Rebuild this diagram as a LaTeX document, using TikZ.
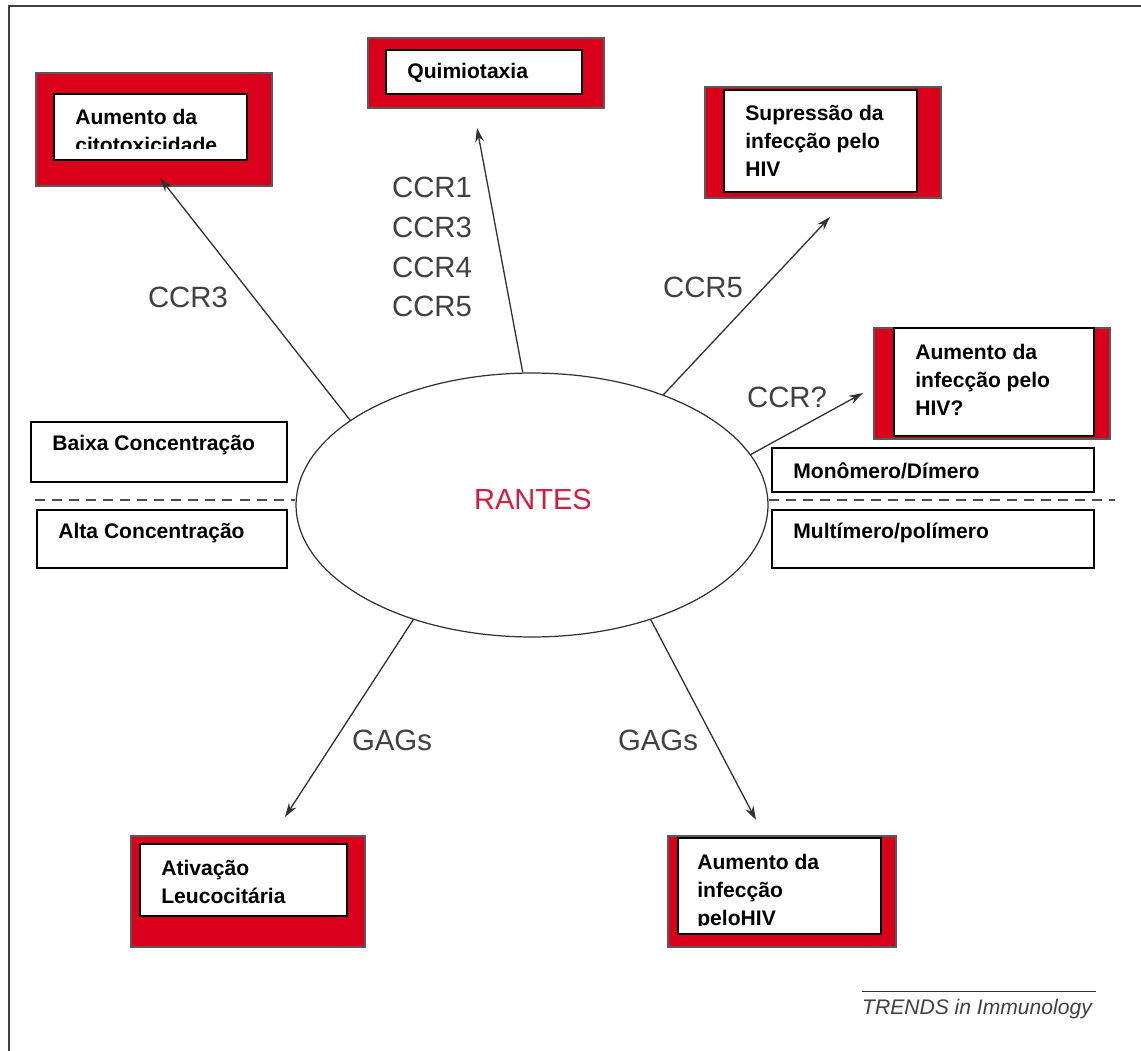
\documentclass[tikz,border=0pt]{standalone}
\usepackage{fontspec}
\setmainfont{Liberation Sans}
\usetikzlibrary{shapes.geometric,arrows.meta,fit}
\definecolor{boxred}{RGB}{218,0,28}
\definecolor{ranred}{RGB}{215,25,60}
\definecolor{lbl}{RGB}{64,64,64}
\definecolor{ln}{RGB}{50,50,50}
\begin{document}
\begin{tikzpicture}[x=0.02cm,y=-0.02cm,
 redbox/.style={fill=boxred,draw=black!65,line width=0.6pt,inner sep=0pt},
 whitebox/.style={fill=white,draw=black,line width=0.6pt,inner sep=0pt},
 plainbox/.style={fill=white,draw=black,line width=0.6pt,inner sep=0pt},
 btxt/.style={font=\bfseries\fontsize{12}{15.8}\selectfont,align=left,inner sep=0pt,anchor=north west},
 btxtone/.style={font=\bfseries\fontsize{12}{14}\selectfont,inner sep=0pt,anchor=west},
 lab/.style={font=\fontsize{16.7}{22.7}\selectfont,text=lbl,inner sep=0pt},
 arr/.style={draw=ln,line width=0.75pt,-{Stealth[length=8pt,width=5pt]}},
 dl/.style={draw=black!70,line width=1.1pt,dash pattern=on 5.7pt off 4pt}
]
\useasboundingbox (0,0) rectangle (1141,1050);
% frame
\draw[line width=1.4pt,draw=black!75] (9,1060) -- (9,6) -- (1150,6);

% central ellipse
\node[ellipse,draw=ln,line width=0.7pt,minimum width=9.44cm,minimum height=5.28cm,inner sep=0pt] (R) at (532,505) {};
\node[font=\fontsize{16.5}{18}\selectfont,text=ranred,inner sep=0pt] (rt) at (533,500) {RANTES};

% dashed separators
\coordinate (dL) at (35,500);
\coordinate (dR) at (1115,500);
\draw[dl] (dL) -- (dL -| R.west);
\draw[dl] (dR -| R.east) -- (dR);

% box 1
\node[redbox,fit={(36,73) (272,186)}] (o1) {};
\node[whitebox,fit={(54,94) (247,160)}] (i1) {};
\begin{scope}
\clip (54,94) rectangle (247,149);
\node[btxt] (t1) at (75,109) {Aumento da\\citotoxicidade};
\end{scope}

% box 2
\node[redbox,fit={(368,38) (604,108)}] (o2) {};
\node[whitebox,fit={(386,50) (582,94)}] (i2) {};
\node[btxtone] (t2) at (407,73) {Quimiotaxia};

% box 3
\node[redbox,fit={(705,87) (941,198)}] (o3) {};
\node[whitebox,fit={(724,90) (917,192)}] (i3) {};
\node[btxt] (t3) at (745,105) {Supressão da\\infecção pelo\\HIV};

% box 4
\node[redbox,fit={(874,328) (1110,439)}] (o4) {};
\node[whitebox,fit={(894,328) (1094,436)}] (i4) {};
\node[btxt] (t4) at (915,344) {Aumento da\\infecção pelo\\HIV?};

% box 5
\node[redbox,fit={(131,836) (365,947)}] (o5) {};
\node[whitebox,fit={(140,844) (347,916)}] (i5) {};
\node[btxt] (t5) at (161,860) {Ativação\\Leucocitária};

% box 6
\node[redbox,fit={(668,836) (896,947)}] (o6) {};
\node[whitebox,fit={(678,838) (881,934)}] (i6) {};
\begin{scope}
\clip (678,838) rectangle (881,925);
\node[btxt] (t6) at (697,854) {Aumento da\\infecção\\peloHIV};
\end{scope}

% plain boxes
\node[plainbox,fit={(31,422) (287,482)}] (p1) {};
\node[btxtone] (q1) at (52,445) {Baixa Concentração};
\node[plainbox,fit={(37,510) (287,568)}] (p2) {};
\node[btxtone] (q2) at (58,533) {Alta Concentração};
\node[plainbox,fit={(772,448) (1094,492)}] (p3) {};
\node[btxtone] (q3) at (793,471) {Monômero/Dímero};
\node[plainbox,fit={(772,510) (1094,568)}] (p4) {};
\node[btxtone] (q4) at (793,533) {Multímero/polímero};

% arrow tips
\coordinate (a1) at (160,178);
\coordinate (a2) at (477,128);
\coordinate (a3) at (830,217);
\coordinate (a4) at (863,393);
\coordinate (a5) at (285,817);
\coordinate (a6) at (756,820);
\draw[arr] (R.155.6) -- (a1);
\draw[arr] (R.94.3) -- (a2);
\draw[arr] (R.40.5) -- (a3);
\draw[arr] (R.13.2) -- (a4);
\draw[arr] (R.224) -- (a5);
\draw[arr] (R.316.5) -- (a6);

% labels
\node[lab] (l1) at (188,297) {CCR3};
\node[lab,align=left] (l2) at (432,247) {CCR1\\CCR3\\CCR4\\CCR5};
\node[lab] (l3) at (703,287) {CCR5};
\node[lab] (l4) at (787,397) {CCR?};
\node[lab] (l5) at (392,740) {GAGs};
\node[lab] (l6) at (658,740) {GAGs};

% source
\node[font=\itshape\fontsize{12}{14}\selectfont,text=black!75,inner sep=0pt] (tr) at (977,1009) {TRENDS in Immunology};
\draw[black!80,line width=0.6pt] ([yshift=4pt]tr.north west) -- ([yshift=4pt,xshift=2pt]tr.north east);
\end{tikzpicture}
\end{document}
